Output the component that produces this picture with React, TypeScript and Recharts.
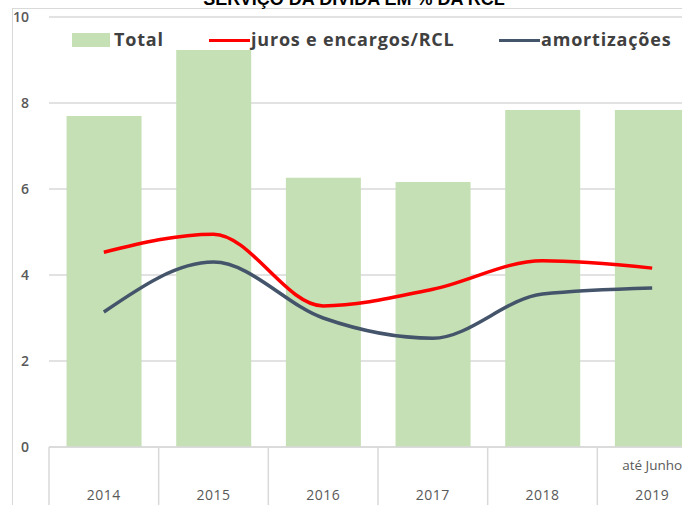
import { ComposedChart, Bar, Line, XAxis, YAxis, CartesianGrid } from 'recharts';

const years = ['2014', '2015', '2016', '2017', '2018', '2019'];
const yearNotes = ['', '', '', '', '', 'até Junho'];
const totalValues = [7.7, 9.23, 6.26, 6.16, 7.84, 7.84];
const jurosValues = [4.53, 4.95, 3.28, 3.67, 4.33, 4.16];
const amortValues = [3.14, 4.3, 3.0, 2.53, 3.56, 3.7];
const yTicks = [0, 2, 4, 6, 8, 10];

const data = years.map((year, i) => ({
  year,
  note: yearNotes[i],
  total: totalValues[i],
  juros: jurosValues[i],
  amort: amortValues[i],
}));

const GRAY = '#d9d9d9';
const TEXT = '#595959';
const FONT = '"Open Sans", "Liberation Sans", sans-serif';
const BAND = 658 / 6;

const YTick = (props: any) => {
  const { y, payload } = props;
  return (
    <text x={29} y={y} dy={5} textAnchor="end" fontSize={14} fontWeight={600} fill={TEXT} fontFamily={FONT}>
      {payload.value}
    </text>
  );
};

const XTick = (props: any) => {
  const { x, payload, index } = props;
  const note = yearNotes[index];
  return (
    <g>
      <line x1={x - BAND / 2} x2={x - BAND / 2} y1={447} y2={520} stroke={GRAY} strokeWidth={1.5} />
      {note ? (
        <text x={x} y={470} textAnchor="middle" fontSize={13.5} fill={TEXT} fontFamily={FONT}>
          {note}
        </text>
      ) : null}
      <text x={x} y={500} textAnchor="middle" fontSize={14} letterSpacing={0.5} fill={TEXT} fontFamily={FONT}>
        {payload.value}
      </text>
    </g>
  );
};

const legendItems = [
  { label: 'Total', color: '#c5e0b4', kind: 'box', left: 72, textLeft: 114 },
  { label: 'juros e encargos/RCL', color: '#ff0000', kind: 'line', left: 209, textLeft: 251 },
  { label: 'amortizações', color: '#44546a', kind: 'line', left: 499, textLeft: 541 },
];

export default function App() {
  return (
    <div
      style={{
        position: 'fixed',
        left: 0,
        top: 0,
        width: 682,
        height: 505,
        overflow: 'hidden',
        background: '#fff',
      }}
    >
      {/* frame */}
      <div
        style={{
          position: 'absolute',
          left: 12,
          top: 8,
          width: 700,
          height: 520,
          borderLeft: `1px solid ${GRAY}`,
          borderTop: `1px solid ${GRAY}`,
        }}
      />
      <div
        style={{
          position: 'absolute',
          left: 0,
          width: 708,
          top: -11,
          textAlign: 'center',
          fontFamily: '"Liberation Sans", Arial, sans-serif',
          fontWeight: 700,
          fontSize: 18,
          color: '#000',
        }}
      >
        SERVIÇO DA DÍVIDA EM % DA RCL
      </div>
      <div style={{ position: 'absolute', left: 0, top: 0 }}>
        <ComposedChart
          width={707}
          height={520}
          data={data}
          margin={{ top: 17, right: 0, bottom: 0, left: 0 }}
          barCategoryGap="16%"
        >
          <CartesianGrid horizontal vertical={false} stroke={GRAY} strokeWidth={1.5} />
          <XAxis
            dataKey="year"
            height={73}
            axisLine={{ stroke: GRAY, strokeWidth: 1.5 }}
            tickLine={false}
            tick={<XTick />}
            interval={0}
          />
          <YAxis
            width={49}
            domain={[0, 10]}
            ticks={yTicks}
            axisLine={false}
            tickLine={false}
            tick={<YTick />}
          />
          <Bar dataKey="total" fill="#c5e0b4" isAnimationActive={false} />
          <Line
            type="monotone"
            dataKey="juros"
            stroke="#ff0000"
            strokeWidth={3.5}
            dot={false}
            isAnimationActive={false}
          />
          <Line
            type="monotone"
            dataKey="amort"
            stroke="#44546a"
            strokeWidth={3.5}
            dot={false}
            isAnimationActive={false}
          />
        </ComposedChart>
      </div>
      {/* legend */}
      {legendItems.map((item) => (
        <div key={item.label}>
          {item.kind === 'box' ? (
            <span
              style={{ position: 'absolute', left: item.left, top: 33, width: 38, height: 14, background: item.color }}
            />
          ) : (
            <span
              style={{ position: 'absolute', left: item.left, top: 39, width: 41, height: 3, background: item.color }}
            />
          )}
          <span
            style={{
              position: 'absolute',
              left: item.textLeft,
              top: 27,
              fontFamily: FONT,
              fontWeight: 700,
              fontSize: 18,
              letterSpacing: 0.8,
              color: '#404040',
              whiteSpace: 'nowrap',
            }}
          >
            {item.label}
          </span>
        </div>
      ))}
    </div>
  );
}
